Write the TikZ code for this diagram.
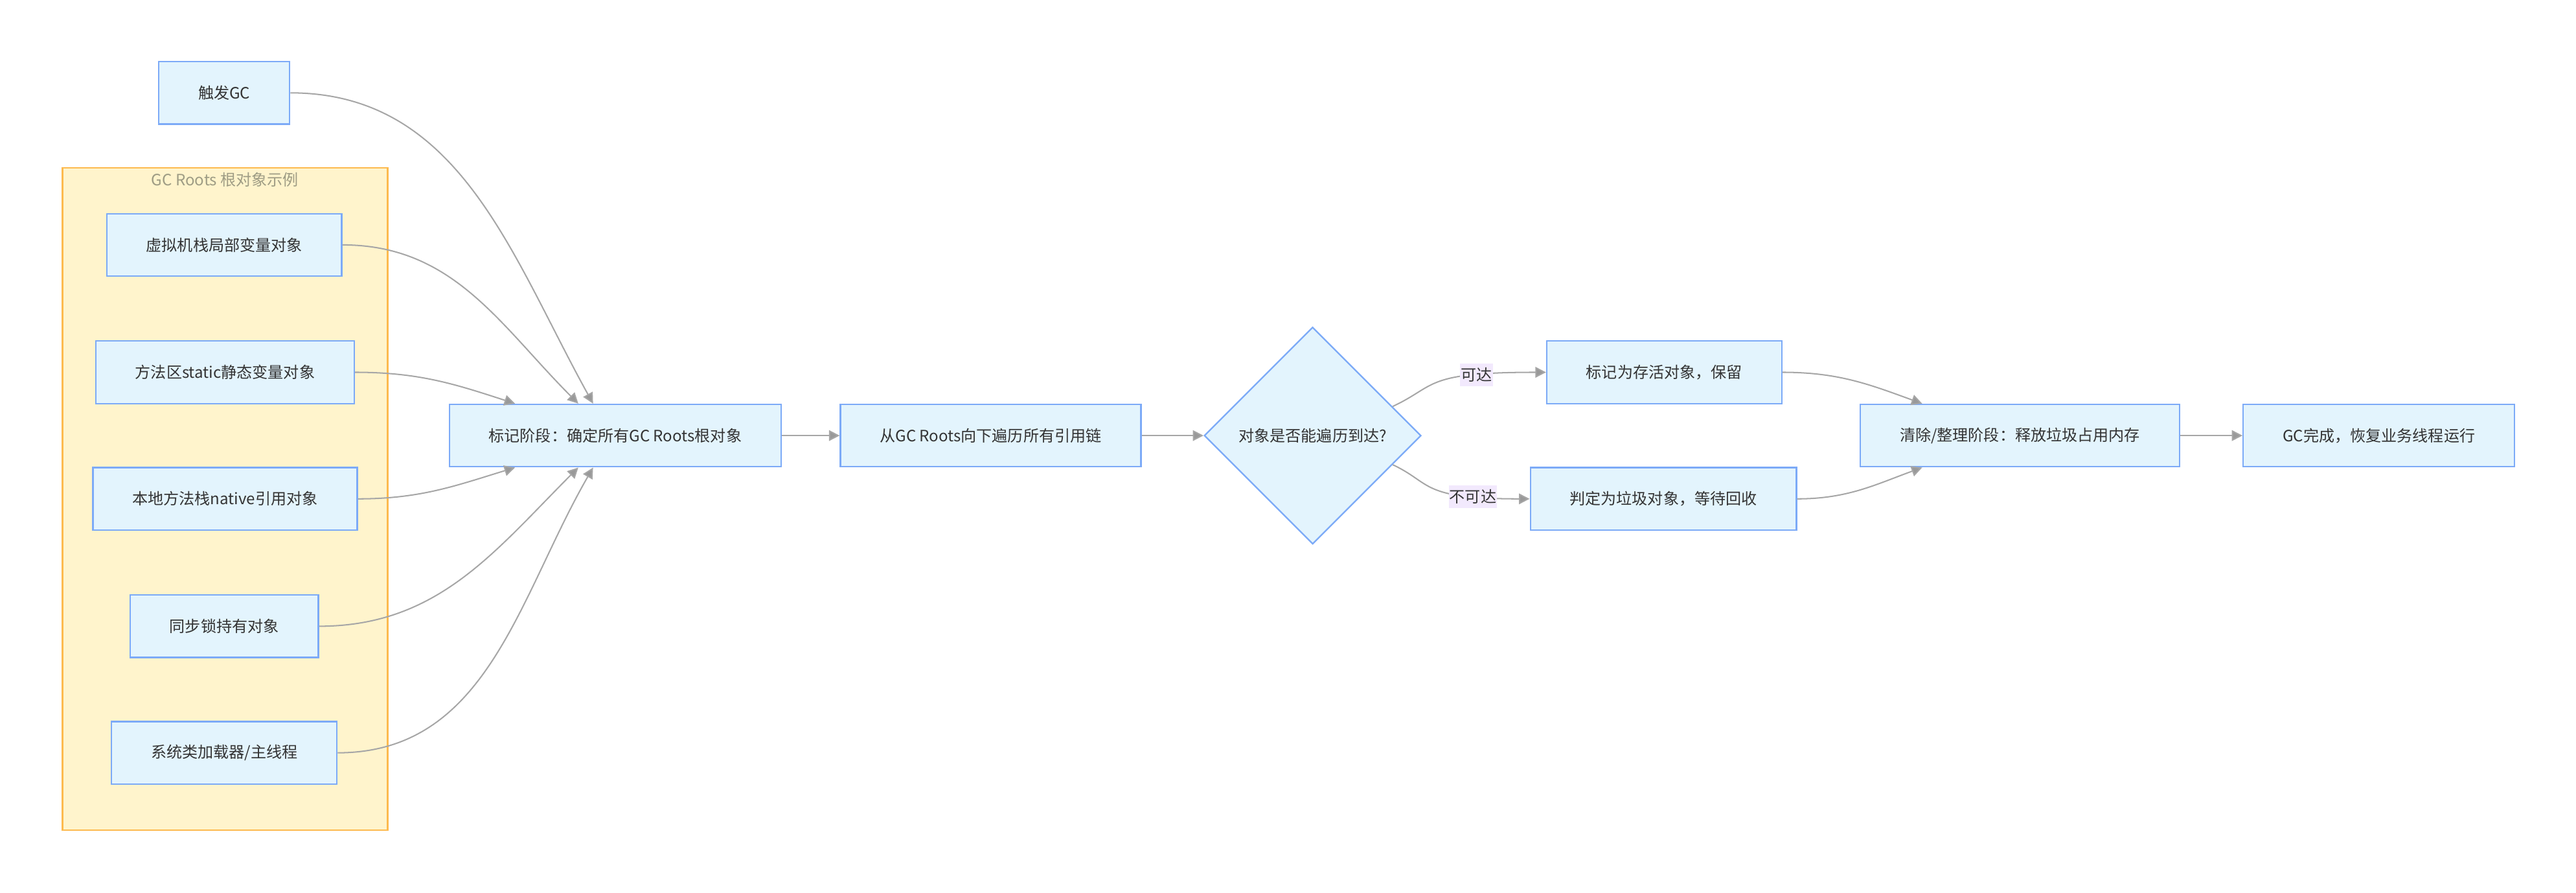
\documentclass[tikz,border=0pt]{standalone}
\usepackage{fontspec}
\setmainfont{Noto Sans CJK SC}
\usetikzlibrary{shapes.geometric}
\usetikzlibrary{positioning}
\usetikzlibrary{fit}
\usetikzlibrary{arrows.meta}
\definecolor{boxfill}{HTML}{E3F4FD}
\definecolor{boxline}{HTML}{7CAAF7}
\definecolor{groupfill}{HTML}{FFF4CC}
\definecolor{groupline}{HTML}{FDBA4E}
\definecolor{grouptext}{HTML}{9E9C84}
\definecolor{linkgray}{HTML}{A6A6A6}
\definecolor{tipgray}{HTML}{999999}
\definecolor{lblfill}{HTML}{F2E9FD}
\definecolor{txt}{HTML}{333333}

\begin{document}
\begin{tikzpicture}[x=1pt, y=1pt,
            font=\fontsize{9.5}{11}\selectfont, text=txt,
            box/.style = {draw=boxline, fill=boxfill, line width=0.9pt,
                minimum height=38pt, inner xsep=24pt},
            decide/.style = {diamond, draw=boxline, fill=boxfill,
                line width=0.9pt, aspect=1, inner sep=0pt,
                minimum width=132pt, minimum height=132pt},
            group/.style = {draw=groupline, fill=groupfill,
                line width=0.9pt, inner sep=0pt},
            grouptitle/.style = {text=grouptext, inner sep=1pt},
            link/.style = {linkgray, line width=0.8pt,
                -{Triangle[length=6.5pt,width=6.5pt,fill=tipgray]}},
            lbl/.style = {fill=lblfill, text=txt, inner xsep=0.5pt, inner ysep=2.5pt}]
            \useasboundingbox (0,0) rectangle (1568,-543);
            % GC Roots group
            \coordinate (gtl) at (38,-102);
            \coordinate (gbr) at (236,-505);
            \node[group, fit=(gtl)(gbr)] (roots) {};
            \node[grouptitle, below=2pt of roots.north] (rootstitle) {GC Roots 根对象示例};
            \node[box] (trig) at (136.5,-56.5) {触发GC};
            \node[box] (vms) at (136.5,-149) {虚拟机栈局部变量对象};
            \node[box] (static) at (137,-226.5) {方法区static静态变量对象};
            \node[box] (native) at (137,-303.5) {本地方法栈native引用对象};
            \node[box] (lock) at (136.5,-381) {同步锁持有对象};
            \node[box] (loader) at (136.5,-458) {系统类加载器/主线程};
            % main flow
            \node[box] (mark) at (374.5,-265) {标记阶段：确定所有GC Roots根对象};
            \node[box] (trav) at (603,-265) {从GC Roots向下遍历所有引用链};
            \node[decide] (reach) at (799,-265) {对象是否能遍历到达?};
            \node[box] (alive) at (1013,-226.5) {标记为存活对象，保留};
            \node[box] (garbage) at (1012.5,-303.5) {判定为垃圾对象，等待回收};
            \node[box] (sweep) at (1229.5,-265) {清除/整理阶段：释放垃圾占用内存};
            \node[box] (done) at (1448,-265) {GC完成，恢复业务线程运行};
            \path[link]
                (trig.east) edge[out=0, in=119] ([xshift=-13.5pt]mark.north)
                (vms.east) edge[out=0, in=135] ([xshift=-22.5pt]mark.north)
                (static.east) edge[out=0, in=162] ([xshift=-61pt]mark.north)
                (native.east) edge[out=0, in=197] ([xshift=-61pt]mark.south)
                (lock.east) edge[out=0, in=225] ([xshift=-22.5pt]mark.south)
                (loader.east) edge[out=0, in=240] ([xshift=-13.5pt]mark.south)
                (mark) edge (trav)
                (trav) edge (reach)
                (reach.20) edge[out=25, in=180, out looseness=0.8, in looseness=2]
                    node[lbl, pos=0.75] {可达} (alive.west)
                (reach.-20) edge[out=-25, in=180, out looseness=0.8, in looseness=2]
                    node[lbl, pos=0.78] {不可达} (garbage.west)
                (alive.east) edge[out=0, in=160] ([xshift=-59.5pt]sweep.north)
                (garbage.east) edge[out=0, in=200] ([xshift=-59.5pt]sweep.south)
                (sweep) edge (done);
        \end{tikzpicture}
\end{document}
